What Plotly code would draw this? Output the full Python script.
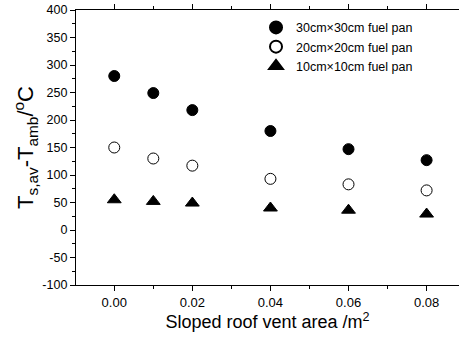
import plotly.graph_objects as go

x_area = [0.00, 0.01, 0.02, 0.04, 0.06, 0.08]
pan30 = [280, 249, 218, 180, 147, 127]
pan20 = [150, 130, 117, 93, 83, 72]
pan10 = [55, 52, 49, 40, 36, 29]
names = ["30cm×30cm fuel pan", "20cm×20cm fuel pan", "10cm×10cm fuel pan"]
x_ticks = [0.00, 0.02, 0.04, 0.06, 0.08]
y_ticks = [-100, -50, 0, 50, 100, 150, 200, 250, 300, 350, 400]

font = "Liberation Sans, Arial, Helvetica, sans-serif"

fig = go.Figure()
fig.add_trace(go.Scatter(x=x_area, y=pan30, mode="markers", name=names[0],
                         marker=dict(symbol="circle", size=11, color="black",
                                     line=dict(color="black", width=1))))
fig.add_trace(go.Scatter(x=x_area, y=pan20, mode="markers", name=names[1],
                         marker=dict(symbol="circle-open", size=11, color="black",
                                     line=dict(color="black", width=1))))
fig.add_trace(go.Scatter(x=x_area, y=pan10, mode="markers", name=names[2],
                         marker=dict(symbol="triangle-up", size=12, color="black",
                                     line=dict(color="black", width=1))))

fig.update_layout(
    width=459, height=340,
    margin=dict(l=76, r=0, t=10, b=55),
    paper_bgcolor="white", plot_bgcolor="white",
    font=dict(family=font, color="black", size=12),
    showlegend=True,
    legend=dict(x=0.47, y=0.99, xanchor="left", yanchor="top",
                bgcolor="rgba(0,0,0,0)", font=dict(size=12.5, family=font),
                itemsizing="constant", tracegroupgap=0),
    xaxis=dict(range=[-0.0098, 0.0883], tickmode="array",
               tickvals=x_ticks,
               ticktext=["%.2f" % v for v in x_ticks],
               ticks="outside", ticklen=5, tickwidth=1, tickcolor="black",
               minor=dict(tickvals=[0.01, 0.03, 0.05, 0.07], ticks="outside",
                          ticklen=3, tickcolor="black"),
               showline=True, linecolor="black", linewidth=1.2, mirror="ticks",
               showgrid=False, zeroline=False,
               tickfont=dict(size=13),
               title=dict(text="Sloped roof vent area /m<sup>2</sup>",
                          font=dict(size=18), standoff=4)),
    yaxis=dict(range=[-100, 400], tickmode="array", tickvals=y_ticks,
               ticktext=[str(v) for v in y_ticks],
               ticks="outside", ticklen=5, tickwidth=1, tickcolor="black",
               minor=dict(tickvals=[v + 25 for v in y_ticks[:-1]], ticks="outside",
                          ticklen=3, tickcolor="black"),
               showline=True, linecolor="black", linewidth=1.2, mirror=False,
               showgrid=False, zeroline=False,
               tickfont=dict(size=12.5),
               title=dict(text="T<sub>s,av</sub>-T<sub>amb</sub>/<sup>o</sup>C",
                          font=dict(size=22), standoff=2)),
)

fig.write_html("out.html")
